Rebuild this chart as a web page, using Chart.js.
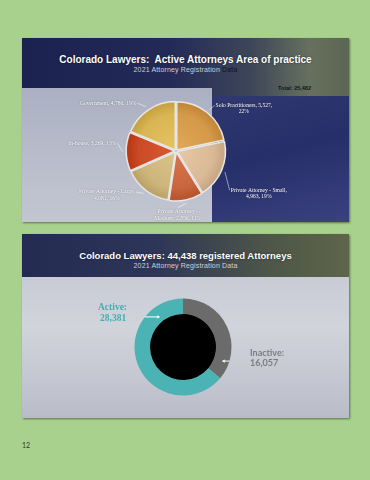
<!DOCTYPE html>
<html>
<head>
<meta charset="utf-8">
<script src="https://cdn.jsdelivr.net/npm/chart.js"></script>
<style>
  html, body { margin: 0; padding: 0; }
  body { width: 370px; height: 480px; background: #a9d18e; position: relative; overflow: hidden; font-family: "Liberation Sans", Arial, sans-serif; }
  .slide { position: absolute; left: 22px; width: 327px; height: 184px; overflow: hidden; box-shadow: 1px 1px 2px rgba(0,0,0,0.45); }
  #slide1 { top: 38px; background: #283068; }
  #slide2 { top: 234px; background: #c6c8d3; }
  .bg { position: absolute; }
  .title { position: absolute; left: 0; width: 100%; text-align: center; color: #fff; font-weight: bold; white-space: nowrap; text-shadow: 0 0 2px rgba(0,0,0,0.6); }
  .sub { position: absolute; left: 0; width: 100%; text-align: center; color: #d0d0d4; font-size: 7px; letter-spacing: 0.15px; white-space: nowrap; }
  canvas { position: absolute; left: 0; top: 0; }
  #total { position: absolute; right: 38px; top: 47px; font-size: 5.5px; font-weight: bold; color: #151515; }
  #page { position: absolute; left: 22px; top: 441px; font-size: 7px; color: #2e3b2a; font-family: "Lato", sans-serif; }
</style>
</head>
<body>
<div class="slide" id="slide1">
  <div class="bg" style="left:0;top:0;width:327px;height:58px;background:linear-gradient(90deg,#1c2250 0%,#232a58 45%,#3d4658 70%,#66705e 88%,#5c6652 100%);"></div>
  <div class="bg" style="left:0;top:50px;width:190px;height:134px;background:linear-gradient(180deg,#aab0c2 0%,#b9bdcb 55%,#c3c6d1 100%);"></div>
  <div class="bg" style="left:190px;top:58px;width:137px;height:126px;background:linear-gradient(165deg,#30386f 0%,#262f69 45%,#3b4180 100%);"></div>
  <div class="title" style="top:16px;font-size:10px;">Colorado Lawyers:&nbsp; Active Attorneys Area of practice</div>
  <div class="sub" style="top:28px;">2021 Attorney Registration <span style="color:#151515">Data</span></div>
  <div id="total"></div>
  <canvas id="pieChart" width="327" height="184"></canvas>
</div>
<div class="slide" id="slide2">
  <div class="bg" style="left:0;top:0;width:327px;height:43px;background:linear-gradient(90deg,#232b52 0%,#2d3558 40%,#4d5648 75%,#5f6549 100%);"></div>
  <div class="bg" style="left:0;top:43px;width:327px;height:141px;background:linear-gradient(180deg,#c8cad5 0%,#d2d4dc 35%,#c3c5d0 75%,#b9bbc7 100%);"></div>
  <div class="title" id="title2" style="top:16px;font-size:9.5px;"></div>
  <div class="sub" style="top:28px;">2021 Attorney Registration Data</div>
  <canvas id="ringChart" width="327" height="184"></canvas>
</div>
<div id="page">12</div>

<script>
// area of practice, active attorneys (clockwise from 12 o'clock)
const practiceAreas = ["Solo Practitioners", "Private Attorney - Small", "Private Attorney - Medium",
                       "Private Attorney - Large", "In-house", "Government"];
const practiceCounts = [5527, 4963, 2856, 4081, 3269, 4786];
const practiceColors = ["#d49a4a", "#d9b996", "#c9663f", "#cdb57c", "#cc4b27", "#d9b653"];

// registration status
const statusLabels = ["Inactive", "Active"];
const statusCounts = [16057, 28381];
const statusColors = ["#6b6b6b", "#4bb3b3"];

const fmt = n => n.toLocaleString("en-US");
const practiceTotal = practiceCounts.reduce((a, b) => a + b, 0);
const statusTotal = statusCounts.reduce((a, b) => a + b, 0);

document.getElementById("total").textContent = "Total: " + fmt(practiceTotal);
document.getElementById("title2").textContent = "Colorado Lawyers: " + fmt(statusTotal) + " registered Attorneys";

function shade(hex, amt) {
  const n = parseInt(hex.slice(1), 16);
  let r = n >> 16, g = (n >> 8) & 255, b = n & 255;
  const f = v => Math.max(0, Math.min(255, Math.round(v + amt)));
  return "rgb(" + f(r) + "," + f(g) + "," + f(b) + ")";
}

function wrap(ctx, text, maxW) {
  const words = text.split(" ");
  const lines = [];
  let cur = "";
  words.forEach(w => {
    const t = cur ? cur + " " + w : w;
    if (cur && ctx.measureText(t).width > maxW) { lines.push(cur); cur = w; }
    else cur = t;
  });
  if (cur) lines.push(cur);
  return lines;
}

// label placement around the pie: extra turn (deg) and distance from centre
const pieLabelPlace = [
  { turn: 19, dist: 80 }, { turn: 4, dist: 93 }, { turn: 10, dist: 64 },
  { turn: 20, dist: 82 }, { turn: 6, dist: 84 }, { turn: -21, dist: 83 }
];

const pieLabels = {
  id: "pieLabels",
  afterDatasetsDraw(chart) {
    const ctx = chart.ctx;
    const meta = chart.getDatasetMeta(0);
    ctx.save();
    ctx.font = '5.6px "Liberation Serif", serif';
    ctx.textAlign = "center";
    ctx.textBaseline = "middle";
    meta.data.forEach((arc, i) => {
      const p = arc.getProps(["x", "y", "startAngle", "endAngle", "outerRadius"], true);
      const mid = (p.startAngle + p.endAngle) / 2;
      const pl = pieLabelPlace[i];
      const a = mid + pl.turn * Math.PI / 180;
      const lx = p.x + Math.cos(a) * pl.dist;
      const ly = p.y + Math.sin(a) * pl.dist;
      const pct = Math.round(practiceCounts[i] / practiceTotal * 100);
      const text = practiceAreas[i] + ", " + fmt(practiceCounts[i]) + ", " + pct + "%";
      const lines = wrap(ctx, text, 58);
      const lh = 6.4;
      const top = ly - lines.length * lh / 2;
      ctx.shadowColor = "rgba(0,0,0,0.55)";
      ctx.shadowBlur = 1.5;
      ctx.fillStyle = "#ffffff";
      lines.forEach((s, k) => ctx.fillText(s, lx, top + lh * (k + 0.5)));
      ctx.shadowBlur = 0;
      // leader line to slice edge
      const w0 = ctx.measureText(lines[0]).width;
      let sx, sy = top + lh * 0.5;
      if (lx < p.x - 12) sx = lx + w0 / 2 + 1;
      else if (lx > p.x + 12) sx = lx - w0 / 2 - 1;
      else { sx = lx; sy = top - 1; }
      const ex = p.x + Math.cos(mid) * (p.outerRadius + 5);
      const ey = p.y + Math.sin(mid) * (p.outerRadius + 5);
      ctx.strokeStyle = "rgba(255,255,255,0.85)";
      ctx.lineWidth = 0.6;
      ctx.beginPath();
      ctx.moveTo(sx, sy);
      ctx.lineTo(ex, ey);
      ctx.stroke();
    });
    ctx.restore();
  }
};

new Chart(document.getElementById("pieChart"), {
  type: "pie",
  data: {
    labels: practiceAreas,
    datasets: [{
      data: practiceCounts,
      backgroundColor: c => {
        const area = c.chart.chartArea;
        const base = practiceColors[c.dataIndex];
        if (!area) return base;
        const cx = (area.left + area.right) / 2, cy = (area.top + area.bottom) / 2;
        const r = Math.min(area.width, area.height) / 2;
        const g = c.chart.ctx.createRadialGradient(cx, cy, 0, cx, cy, r);
        g.addColorStop(0, shade(base, 14));
        g.addColorStop(0.7, base);
        g.addColorStop(0.9, shade(base, -18));
        g.addColorStop(1, shade(base, 10));
        return g;
      },
      borderColor: "#e6e6e6",
      borderWidth: 1.5,
      offset: 5
    }]
  },
  options: {
    responsive: false,
    animation: false,
    events: [],
    layout: { padding: { left: 102.5, right: 121.5, top: 61.5, bottom: 19.5 } },
    plugins: { legend: { display: false }, tooltip: { enabled: false } }
  },
  plugins: [pieLabels]
});

const ringDecor = {
  id: "ringDecor",
  beforeDatasetsDraw(chart) {
    const arc = chart.getDatasetMeta(0).data[0];
    const p = arc.getProps(["x", "y", "innerRadius"], true);
    const ctx = chart.ctx;
    ctx.save();
    ctx.fillStyle = "#000";
    ctx.beginPath();
    ctx.arc(p.x, p.y, p.innerRadius + 0.5, 0, Math.PI * 2);
    ctx.fill();
    ctx.restore();
  },
  afterDatasetsDraw(chart) {
    const arc = chart.getDatasetMeta(0).data[0];
    const p = arc.getProps(["x", "y", "outerRadius"], true);
    const R = p.outerRadius;
    const ctx = chart.ctx;
    ctx.save();
    ctx.strokeStyle = "#ffffff";
    ctx.fillStyle = "#ffffff";
    ctx.lineWidth = 1;
    const arrow = (x1, y, x2) => {
      const d = Math.sign(x2 - x1);
      ctx.beginPath(); ctx.moveTo(x1, y); ctx.lineTo(x2 - d * 2, y); ctx.stroke();
      ctx.beginPath(); ctx.moveTo(x2, y); ctx.lineTo(x2 - d * 3, y - 1.6); ctx.lineTo(x2 - d * 3, y + 1.6); ctx.closePath(); ctx.fill();
    };
    // active pointer
    const ay = p.y - 0.62 * R;
    arrow(p.x - Math.sqrt(R * R - (ay - p.y) ** 2), ay, p.x - 0.47 * R);
    // inactive pointer
    const iy = p.y + 0.29 * R;
    arrow(p.x + Math.sqrt(R * R - (iy - p.y) ** 2), iy, p.x + 0.8 * R);

    ctx.textAlign = "left";
    ctx.textBaseline = "middle";
    ctx.font = 'bold 9.5px "Liberation Serif", serif';
    ctx.fillStyle = "#3fb0b0";
    ctx.fillText(statusLabels[1] + ":", p.x - 85, p.y - 39);
    ctx.fillText(fmt(statusCounts[1]), p.x - 83, p.y - 28);
    ctx.font = 'bold 9px "Lato", sans-serif';
    ctx.fillStyle = "#7d7d80";
    ctx.fillText(statusLabels[0] + ":", p.x + 67, p.y + 6);
    ctx.fillText(fmt(statusCounts[0]), p.x + 67, p.y + 16);
    ctx.restore();
  }
};

new Chart(document.getElementById("ringChart"), {
  type: "doughnut",
  data: {
    labels: statusLabels,
    datasets: [{
      data: statusCounts,
      backgroundColor: statusColors,
      borderWidth: 0
    }]
  },
  options: {
    responsive: false,
    animation: false,
    events: [],
    cutout: "68%",
    layout: { padding: { left: 112.5, right: 117.5, top: 64.5, bottom: 22.5 } },
    plugins: { legend: { display: false }, tooltip: { enabled: false } }
  },
  plugins: [ringDecor]
});
</script>
</body>
</html>
